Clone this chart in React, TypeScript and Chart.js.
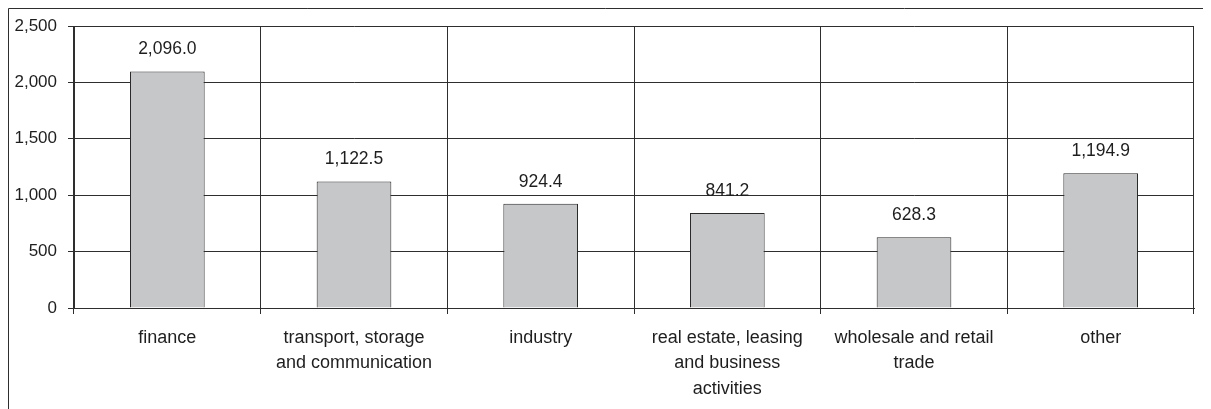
import React, { useEffect, useRef } from "react";
import { Chart, registerables } from "chart.js";

Chart.register(...registerables);

const categories: (string | string[])[] = [
  "finance",
  ["transport, storage", "and communication"],
  "industry",
  ["real estate, leasing", "and business", "activities"],
  ["wholesale and retail", "trade"],
  "other",
];
const values: number[] = [2096.0, 1122.5, 924.4, 841.2, 628.3, 1194.9];
const yTicks: number[] = [0, 500, 1000, 1500, 2000, 2500];

const FONT = "'Liberation Sans', Arial, sans-serif";
const TEXT = "#1e1e1e";
const LINE = "#2e2e2e";

const fmt1 = (v: number) =>
  v.toLocaleString("en-US", { minimumFractionDigits: 1, maximumFractionDigits: 1 });
const fmt0 = (v: number) => v.toLocaleString("en-US");

const framePlugin = {
  id: "frame",
  beforeDraw(chart: any) {
    const ctx = chart.ctx;
    ctx.save();
    ctx.strokeStyle = LINE;
    ctx.lineWidth = 1;
    ctx.beginPath();
    ctx.moveTo(8.5, chart.height);
    ctx.lineTo(8.5, 8.5);
    ctx.lineTo(1203, 8.5);
    ctx.stroke();
    ctx.restore();
  },
};

const labelPlugin = {
  id: "valueLabels",
  afterDatasetsDraw(chart: any) {
    const ctx = chart.ctx;
    const meta = chart.getDatasetMeta(0);
    ctx.save();
    ctx.font = `17.5px ${FONT}`;
    ctx.fillStyle = TEXT;
    ctx.textAlign = "center";
    ctx.textBaseline = "middle";
    meta.data.forEach((bar: any, i: number) => {
      ctx.fillText(fmt1(values[i]), bar.x, bar.y - 22);
    });
    ctx.restore();
  },
};

export default function App() {
  const ref = useRef<HTMLCanvasElement | null>(null);
  useEffect(() => {
    if (!ref.current) return;
    const chart = new Chart(ref.current, {
      type: "bar",
      data: {
        labels: categories,
        datasets: [
          {
            data: values,
            backgroundColor: "#c6c7c9",
            borderColor: "#2a2a2a",
            borderWidth: 1,
            barPercentage: 0.4,
            categoryPercentage: 1,
          },
        ],
      },
      options: {
        animation: false,
        responsive: false,
        maintainAspectRatio: false,
        layout: { padding: { left: 0, right: 17, top: 26, bottom: 0 } },
        plugins: { legend: { display: false }, tooltip: { enabled: false } },
        scales: {
          x: {
            grid: {
              offset: true,
              color: LINE,
              lineWidth: 1,
              drawTicks: true,
              tickLength: 6,
              tickColor: LINE,
            },
            border: { color: LINE, width: 1 },
            ticks: {
              color: TEXT,
              padding: 12,
              maxRotation: 0,
              autoSkip: false,
              font: { family: FONT, size: 18, lineHeight: 1.39 },
            },
            afterFit: (s: any) => {
              s.height = 101;
            },
          },
          y: {
            min: 0,
            max: 2500,
            afterBuildTicks: (s: any) => {
              s.ticks = yTicks.map((v) => ({ value: v }));
            },
            grid: {
              color: LINE,
              lineWidth: 1,
              drawTicks: true,
              tickLength: 6,
              tickColor: LINE,
            },
            border: { color: LINE, width: 1 },
            ticks: {
              color: TEXT,
              padding: 11,
              font: { family: FONT, size: 17 },
              callback: (v: any) => fmt0(Number(v)),
            },
            afterFit: (s: any) => {
              s.width = 74;
            },
          },
        },
      },
      plugins: [framePlugin, labelPlugin],
    });
    return () => chart.destroy();
  }, []);
  return (
    <div style={{ position: "fixed", left: 0, top: 0, width: 1211, height: 409, background: "#fff" }}>
      <canvas ref={ref} width={1211} height={409} style={{ display: "block" }} />
    </div>
  );
}
